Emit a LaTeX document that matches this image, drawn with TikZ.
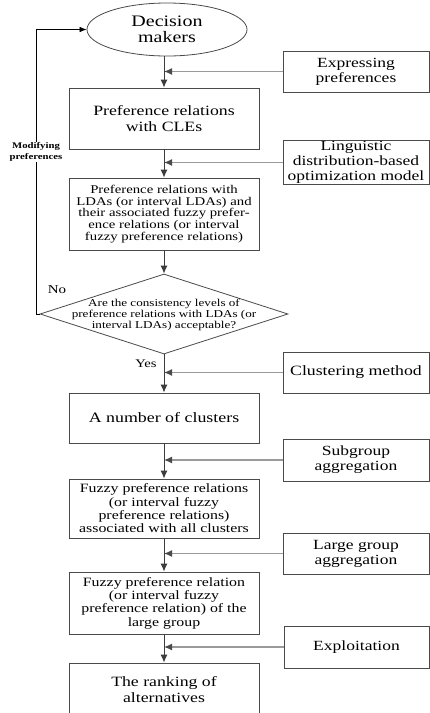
\documentclass[tikz,border=0pt]{standalone}
\usepackage{fontspec}
\setmainfont{Liberation Serif}[FakeStretch=1.25]
\usetikzlibrary{shapes.geometric,arrows.meta}
\definecolor{bord}{HTML}{4A4A4A}
\definecolor{varr}{HTML}{3C3C3C}
\definecolor{harr}{HTML}{9A9A9A}
\definecolor{htip}{HTML}{4A4A4A}
\newcommand\fsz[2]{\fontsize{#1}{#2}\selectfont}
\tikzset{
  mbox/.style={draw=bord, line width=0.8pt, rectangle, align=center, inner sep=1pt, minimum width=190pt},
  rbox/.style={draw=bord, line width=0.8pt, rectangle, align=center, inner sep=1pt, minimum width=146pt, font=\fsz{14}{15}},
  varrow/.style={draw=varr, line width=1pt, -{Latex[length=8pt,width=7pt]}},
  harrow/.style={draw=harr, line width=1.3pt, -{Latex[length=8pt,width=7pt,color=htip]}},
  fback/.style={draw=black, line width=0.7pt, -{Latex[length=7pt,width=5.5pt]}},
}
\begin{document}
\begin{tikzpicture}[x=1pt,y=-1pt]
\useasboundingbox (0,0) rectangle (430,713);
\clip (0,0) rectangle (430,713);

% main column
\node[draw=bord, line width=0.8pt, ellipse, minimum width=160pt, minimum height=53pt, inner sep=0pt, align=center, font=\fsz{16}{16}] (ell) at (167,29.5) {Decision\\makers};
\node[mbox, minimum height=61pt, font=\fsz{14.2}{16}] (cle) at (164,118.5) {Preference relations\\with CLEs};
\node[mbox, minimum height=72pt, font=\fsz{11.8}{11.7}] (lda) at (164,214) {Preference relations with\\LDAs (or interval LDAs) and\\their associated fuzzy prefer-\\ence relations (or interval\\fuzzy preference relations)};
\node[draw=bord, line width=0.8pt, diamond, minimum width=248pt, minimum height=80pt, inner sep=0pt] (dia) at (164,314) {};
\node[align=center, inner sep=0pt, font=\fsz{10.5}{11}] (diat) at (164,315) {Are the consistency levels of\\preference relations with LDAs (or\\interval LDAs) acceptable?};
\node[mbox, minimum height=50pt, font=\fsz{14.3}{16}] (num) at (164,418) {A number of clusters};
\node[mbox, minimum height=59pt, font=\fsz{12.7}{13.3}] (fuz) at (164,508.5) {Fuzzy preference relations\\(or interval fuzzy\\preference relations)\\associated with all clusters};
\node[mbox, minimum height=62pt, font=\fsz{12.7}{13.3}] (grp) at (164,603) {Fuzzy preference relation\\(or interval fuzzy\\preference relation) of the\\large group};
\node[mbox, minimum height=54pt, font=\fsz{14.2}{16}] (rank) at (164,690) {The ranking of\\alternatives};

% right column
\node[rbox, minimum height=41pt] (expr) at (356,71.5) {Expressing\\preferences};
\node[rbox, minimum height=41pt] (ling) at (356,162.5) {Linguistic\\distribution-based\\optimization model};
\node[rbox, minimum height=41pt, font=\fsz{14.2}{15}] (clus) at (356,372.5) {Clustering method};
\node[rbox, minimum height=42pt] (subg) at (356,460) {Subgroup\\aggregation};
\node[rbox, minimum height=41pt] (larg) at (356,553.5) {Large group\\aggregation};
\node[rbox, minimum height=42pt, minimum width=145pt] (expl) at (356.5,647) {Exploitation};

% vertical arrows
\draw[varrow] (ell.south -| cle.north) -- (cle.north);
\draw[varrow] (cle.south) -- (lda.north);
\draw[varrow] (lda.south) -- (dia.north);
\draw[varrow] (dia.south) -- (num.north);
\draw[varrow] (num.south) -- (fuz.north);
\draw[varrow] (fuz.south) -- (grp.north);
\draw[varrow] (grp.south) -- (rank.north);

% horizontal arrows
\draw[harrow] (expr.west) -- (expr.west -| cle.north);
\draw[harrow] (ling.west) -- (ling.west -| cle.north);
\draw[harrow] (clus.west) -- (clus.west -| cle.north);
\draw[harrow] (subg.west) -- (subg.west -| cle.north);
\draw[harrow] (larg.west) -- (larg.west -| cle.north);
\draw[harrow] (expl.west) -- (expl.west -| cle.north);

% feedback loop
\coordinate (fb) at (36,314);
\draw[fback] (dia.west) -- (fb) |- (ell.west);
\node[fill=white, align=center, inner sep=1pt, font=\bfseries\fsz{8.6}{11}] (modp) at (36,152) {Modifying\\preferences};

% labels
\node[font=\fsz{12}{12}, inner sep=0pt] (no) at (57,290) {No};
\node[font=\fsz{11.7}{12}, inner sep=0pt] (yes) at (146,364) {Yes};
\end{tikzpicture}
\end{document}
